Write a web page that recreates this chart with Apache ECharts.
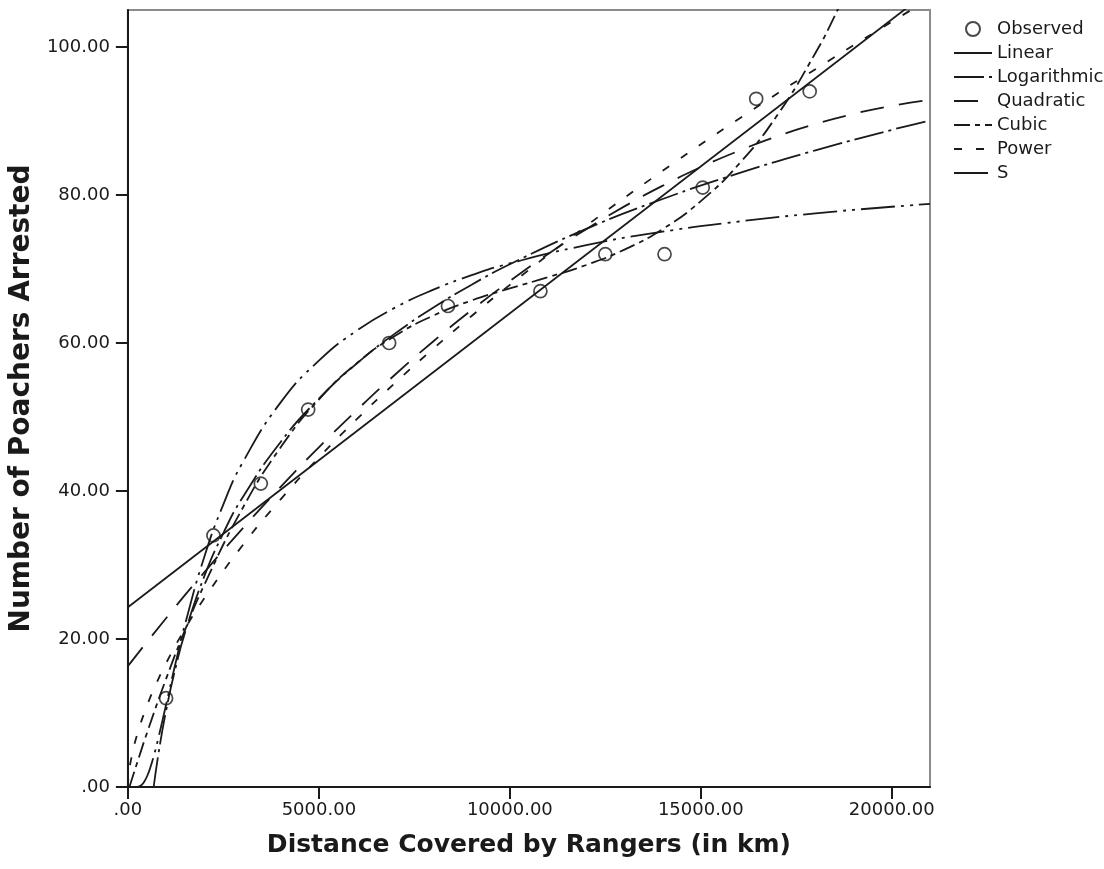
<!DOCTYPE html>
<html>
<head>
<meta charset="utf-8">
<script src="https://cdn.jsdelivr.net/npm/echarts@6/dist/echarts.min.js"></script>
<style>
html,body{margin:0;padding:0;background:#fff;}
#chart{width:1104px;height:869px;}
</style>
</head>
<body>
<div id="chart"></div>
<script>
// Observed data
const observedX = [1000, 2240, 3480, 4720, 6840, 8380, 10800, 12500, 14050, 15050, 16450, 17850];
const observedY = [12, 34, 41, 51, 60, 65, 67, 72, 72, 81, 93, 94];

// Fitted curves
const linearX = [0, 21000];
const linearY = [24.3, 107.7];

const logX = [675, 800, 1000, 1250, 1500, 2000, 2500, 3000, 4000, 5000, 6000, 7000, 8000, 9000, 10000, 12000, 14000, 16000, 18000, 20000, 21000];
const logY = [0, 4.47, 10.31, 16.16, 20.94, 28.47, 34.32, 39.10, 46.63, 52.48, 57.26, 61.30, 64.79, 67.88, 70.64, 75.42, 79.46, 82.95, 86.04, 88.80, 90.08];

const quadX = [0, 1000, 2000, 3000, 4000, 5000, 6000, 7000, 8000, 9000, 10000, 11000, 12000, 13000, 14000, 15000, 16000, 17000, 18000, 19000, 20000, 21000];
const quadY = [16.33, 22.81, 29.01, 34.92, 40.55, 45.90, 50.96, 55.74, 60.24, 64.45, 68.37, 72.02, 75.38, 78.46, 81.25, 83.76, 85.98, 87.93, 89.59, 90.96, 92.05, 92.86];

const cubicX = [40, 250, 500, 1000, 1500, 2000, 3000, 4000, 5000, 6000, 7000, 8000, 9000, 10000, 11000, 12000, 13000, 14000, 15000, 16000, 17000, 18000, 18500, 19000];
const cubicY = [0, 3.38, 7.30, 14.61, 21.27, 27.31, 37.64, 45.90, 52.36, 57.29, 60.99, 63.71, 65.75, 67.38, 68.89, 70.54, 72.62, 75.40, 79.18, 84.21, 90.78, 99.18, 104.15, 109.68];

const powerX = [0, 25, 100, 250, 500, 750, 1000, 1500, 2000, 3000, 4000, 5000, 6000, 7000, 8000, 9000, 10000, 12000, 14000, 16000, 18000, 20000, 21000];
const powerY = [0, 1.78, 4.12, 7.20, 10.97, 14.04, 16.73, 21.41, 25.50, 32.63, 38.87, 44.52, 49.74, 54.62, 59.25, 63.65, 67.85, 75.82, 83.27, 90.30, 97.00, 103.41, 106.53];

const sX = [250, 350, 400, 500, 600, 700, 800, 1000, 1250, 1500, 2000, 2500, 3000, 4000, 5000, 6000, 7000, 8000, 9000, 10000, 12000, 14000, 16000, 18000, 20000, 21000];
const sY = [0.02, 0.24, 0.51, 1.42, 2.83, 4.61, 6.65, 11.12, 16.78, 22.07, 31.09, 38.19, 43.80, 51.98, 57.61, 61.70, 64.79, 67.21, 69.16, 70.76, 73.22, 75.04, 76.42, 77.52, 78.41, 78.80];

// Axis ticks and labels
const xTicks = [0, 5000, 10000, 15000, 20000];
const xTickLabels = ['.00', '5000.00', '10000.00', '15000.00', '20000.00'];
const yTicks = [0, 20, 40, 60, 80, 100];
const yTickLabels = ['.00', '20.00', '40.00', '60.00', '80.00', '100.00'];

const legendNames = ['Observed', 'Linear', 'Logarithmic', 'Quadratic', 'Cubic', 'Power', 'S'];
const xTitle = 'Distance Covered by Rangers (in km)';
const yTitle = 'Number of Poachers Arrested';

const zip = (xs, ys) => xs.map((x, i) => [x, ys[i]]);
const FONT = 'DejaVu Sans';
const INK = '#1a1a1a';

function curve(name, xs, ys, dash) {
  return {
    name: name,
    type: 'line',
    data: zip(xs, ys),
    symbol: 'none',
    smooth: 0.5,
    clip: true,
    lineStyle: { color: INK, width: 1.8, type: dash },
    itemStyle: { color: INK },
    emphasis: { disabled: true },
    silent: true,
    z: 3
  };
}

const chart = echarts.init(document.getElementById('chart'), null, { renderer: 'canvas' });
chart.setOption({
  animation: false,
  backgroundColor: '#ffffff',
  grid: {
    left: 125, right: 174, top: 10, bottom: 82,
    show: true, borderColor: '#8c8c8c', borderWidth: 2, backgroundColor: 'transparent'
  },
  legend: {
    orient: 'vertical',
    left: 948,
    top: 15,
    itemWidth: 38,
    itemHeight: 14,
    itemGap: 6,
    textStyle: { fontFamily: FONT, fontSize: 18, color: INK },
    data: legendNames.map((n, i) => i === 0
      ? { name: n }
      : { name: n, itemStyle: { opacity: 0, color: 'rgba(0,0,0,0)', borderColor: 'rgba(0,0,0,0)', borderWidth: 0 } })
  },
  xAxis: {
    type: 'value',
    min: 0, max: 21000, interval: 5000,
    name: xTitle,
    nameLocation: 'middle',
    nameGap: 46,
    nameTextStyle: { fontFamily: FONT, fontSize: 25, fontWeight: 'bold', color: INK },
    axisLine: { show: true, onZero: false, lineStyle: { color: INK, width: 2 } },
    axisTick: { show: true, length: 12, lineStyle: { color: INK, width: 2 }, customValues: xTicks },
    axisLabel: {
      fontFamily: FONT, fontSize: 18, color: INK, margin: 14,
      customValues: xTicks,
      formatter: v => xTickLabels[xTicks.indexOf(v)] || ''
    },
    splitLine: { show: false }
  },
  yAxis: {
    type: 'value',
    min: 0, max: 105, interval: 20,
    name: yTitle,
    nameLocation: 'middle',
    nameGap: 88,
    nameTextStyle: { fontFamily: FONT, fontSize: 28, fontWeight: 'bold', color: INK },
    axisLine: { show: true, onZero: false, lineStyle: { color: INK, width: 2 } },
    axisTick: { show: true, length: 12, lineStyle: { color: INK, width: 2 }, customValues: yTicks },
    axisLabel: {
      fontFamily: FONT, fontSize: 18, color: INK, margin: 18,
      customValues: yTicks,
      formatter: v => yTickLabels[yTicks.indexOf(v)] || ''
    },
    splitLine: { show: false }
  },
  series: [
    {
      name: 'Observed',
      type: 'scatter',
      data: zip(observedX, observedY),
      symbol: 'circle',
      symbolSize: 13,
      itemStyle: { color: 'rgba(255,255,255,0)', borderColor: INK, borderWidth: 1.7 },
      emphasis: { disabled: true },
      silent: true,
      z: 5
    },
    curve('Linear', linearX, linearY, 'solid'),
    curve('Logarithmic', logX, logY, [30, 5, 3, 5]),
    curve('Quadratic', quadX, quadY, [24, 15]),
    curve('Cubic', cubicX, cubicY, [16, 5, 5, 5]),
    curve('Power', powerX, powerY, [8, 14]),
    curve('S', sX, sY, [34, 6, 3, 6, 3, 6])
  ]
});
</script>
</body>
</html>
